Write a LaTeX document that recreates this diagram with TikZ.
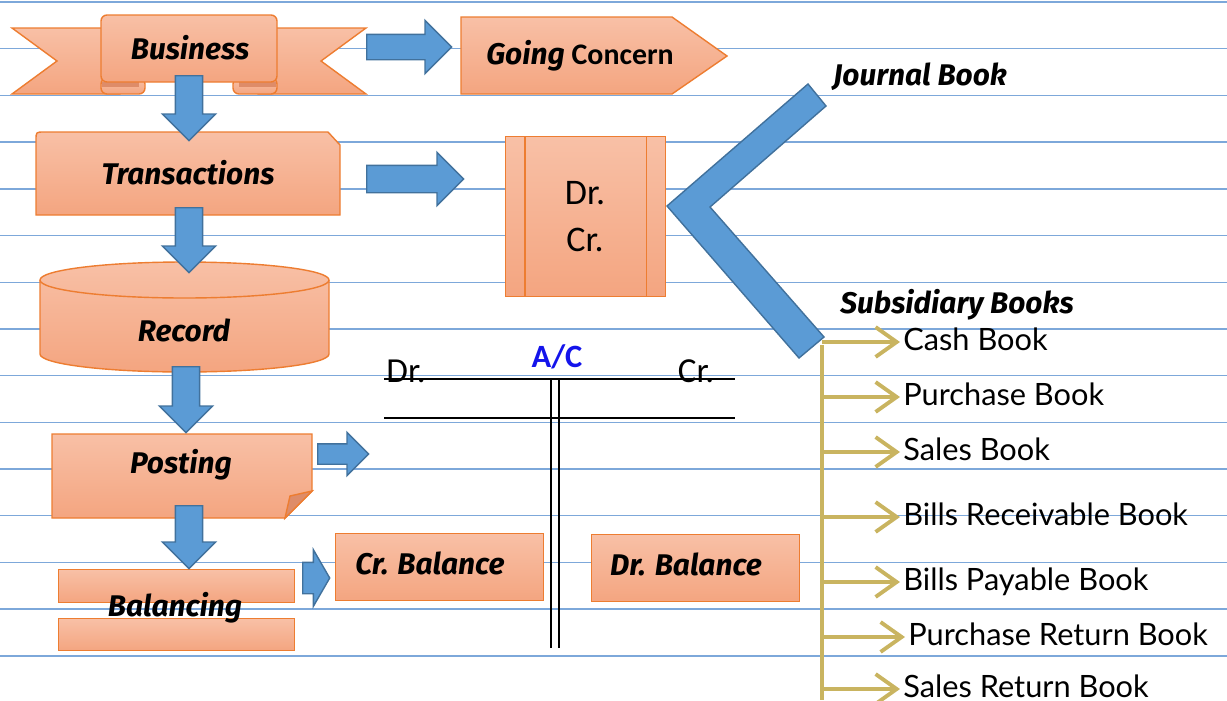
\documentclass[tikz,border=0pt]{standalone}
\usepackage{fontspec}
\setmainfont{Carlito}
\newfontfamily\handfont{Fira Sans}
\newfontfamily\listfont{Lato}
\usetikzlibrary{shapes.arrows,arrows.meta}
\newcommand{\px}{0.02cm}
\definecolor{boxtop}{RGB}{248,192,166}
\definecolor{boxbot}{RGB}{244,165,128}
\definecolor{boxline}{RGB}{237,125,49}
\definecolor{foldcol}{RGB}{222,140,105}
\definecolor{arrfill}{RGB}{91,155,213}
\definecolor{arrline}{RGB}{65,113,156}
\definecolor{ruleblue}{RGB}{125,168,218}
\definecolor{gold}{RGB}{201,180,96}
\definecolor{acblue}{RGB}{20,20,235}

\begin{document}
\begin{tikzpicture}[x=\px, y=-\px,
    rule/.style={draw=ruleblue, line width=0.8pt},
    paper/.style={draw=boxline, line width=0.8pt, top color=boxtop, bottom color=boxbot},
    card/.style={paper, rectangle, inner sep=0pt, anchor=north west},
    flow/.style={single arrow, draw=arrline, fill=arrfill, line width=0.8pt, inner xsep=0pt,
        minimum width=0pt, single arrow tip angle=90, anchor=tail},
    down/.style={flow, rotate=-90, inner ysep=0.26cm, single arrow head extend=0.26cm},
    hand/.style={font=\handfont\bfseries\itshape\fontsize{17}{20}\selectfont, inner sep=0pt},
    item/.style={font=\listfont\fontsize{17.5}{20}\selectfont, anchor=base west, inner xsep=0.06cm, inner ysep=0pt},
    branch/.style={draw=gold, line width=2.2pt, -{Straight Barb[length=12pt,width=17pt]}},
    ledger/.style={draw=black, line width=1.1pt}]
    \clip (0,0) rectangle (1227,700);

    % ruled paper
    \foreach \k in {0,...,14}
        \draw[rule] (0,2+46.7*\k) -- (1227,2+46.7*\k);

    % Business ribbon
    \path[paper] (12,28) -- (120,28) -- (120,94) -- (12,94) -- (57,61) -- cycle;
    \path[paper] (366,28) -- (258,28) -- (258,94) -- (366,94) -- (321,61) -- cycle;
    \draw[paper, rounded corners=0.12cm] (101,78) rectangle (145,94);
    \fill[foldcol] (102,82) rectangle (139,87);
    \draw[paper, rounded corners=0.12cm] (233,78) rectangle (277,94);
    \fill[foldcol] (239,82) rectangle (276,87);
    \draw[paper, rounded corners=0.12cm] (101,15) rectangle (277,82);
    \node[hand] (bus) at (190,48) {Business};

    % Going Concern
    \path[paper] (461,17) -- (672,17) -- (727,56) -- (672,94) -- (461,94) -- cycle;
    \node[hand] (going) at (580,56) {Going {\normalfont\bfseries Concern}};

    % Transactions
    \path[paper] (36,215) -- (36,140) .. controls (36,132) .. (44,132) -- (328,132) -- (340,145) -- (340,215) -- cycle;
    \node[hand] (trans) at (188,173) {Transactions};

    % Dr. Cr. box
    \node[card, minimum width=160*\px, minimum height=160*\px] (drcr) at (505,136) {};
    \draw[boxline, line width=0.8pt] ([xshift=20*\px]drcr.north west) -- ([xshift=20*\px]drcr.south west);
    \draw[boxline, line width=0.8pt] ([xshift=-20*\px]drcr.north east) -- ([xshift=-20*\px]drcr.south east);
    \node[align=center, font=\fontsize{20.5}{26.7}\selectfont] (drcr-txt) at (585,217) {Dr.\\Cr.};

    % Record
    \path[paper] (40,280) -- (40,354) arc[start angle=180, end angle=0, x radius=144.5, y radius=18]
        -- (329,280) arc[start angle=0, end angle=-180, x radius=144.5, y radius=18] -- cycle;
    \draw[boxline, line width=0.8pt] (40,280) arc[start angle=180, end angle=0, x radius=144.5, y radius=18];
    \node[hand] (rec) at (184,330) {Record};

    % Posting
    \path[paper] (52,434) -- (312,434) -- (312,491) -- (285,518) -- (52,518) -- cycle;
    \path[fill=foldcol, draw=boxline, line width=0.8pt] (312,491) -- (290,496) -- (285,518) -- cycle;
    \node[hand] (post) at (181,465) {Posting};

    % Balancing
    \node[card, minimum width=236*\px, minimum height=33*\px] (bal-top) at (58,569) {};
    \node[card, minimum width=236*\px, minimum height=32*\px] (bal-bot) at (58,618) {};
    \node[hand] (bal) at (175,608) {Balancing};

    % Balances
    \node[card, minimum width=208*\px, minimum height=67*\px] (crbal) at (335,533) {};
    \node[hand] (crbal-txt) at (430,563) {Cr. Balance};
    \node[card, minimum width=208*\px, minimum height=67*\px] (drbal) at (591,534) {};
    \node[hand] (drbal-txt) at (686,564) {Dr. Balance};

    % block arrows
    \node[flow, minimum height=85*\px, inner ysep=0.24cm, single arrow head extend=0.28cm] (to-going) at (366,47) {};
    \node[flow, minimum height=97*\px, inner ysep=0.26cm, single arrow head extend=0.26cm] (to-drcr) at (366,179) {};
    \node[flow, minimum height=51*\px, inner ysep=0.19cm, single arrow head extend=0.23cm] (to-ac) at (317,454) {};
    \node[flow, minimum height=27*\px, inner ysep=0.30cm, single arrow head extend=0.25cm, single arrow tip angle=120] (to-crbal) at (302,578) {};
    \node[down, minimum height=65*\px] (to-trans) at (189,75) {};
    \node[down, minimum height=65*\px] (to-rec) at (189,207) {};
    \node[down, minimum height=66*\px] (to-post) at (186,366) {};
    \node[down, minimum height=63*\px] (to-bal) at (189,505) {};

    % chevron
    \path[fill=arrfill, draw=arrline, line width=0.8pt] (808,84) -- (826,106) -- (710,207) -- (824,337) -- (799,358) -- (667,206) -- cycle;
    \node[hand] (journal) at (920,77) {Journal Book};
    \node[hand] (subs) at (957,305) {Subsidiary Books};

    % T account
    \node[font=\fontsize{20}{24}\selectfont, inner sep=0pt] (ac-dr) at (406,371) {Dr.};
    \node[font=\fontsize{20}{24}\selectfont, inner sep=0pt] (ac-cr) at (696,371) {Cr.};
    \node[font=\bfseries\fontsize{18.5}{22}\selectfont, text=acblue, inner sep=0pt] (ac) at (557,357) {A/C};
    \draw[ledger] (384,379) -- (735,379);
    \draw[ledger] (384,418) -- (735,418);
    \draw[ledger] (551,378) -- (551,648);
    \draw[ledger] (559,378) -- (559,648);

    % Subsidiary books
    \coordinate (trunk-top) at (822,345);
    \coordinate (trunk-end) at (822,700);
    \draw[gold, line width=2.2pt] (trunk-top) -- (trunk-end);
    \foreach \name/\xpos/\ypos/\txt in {cash/900/342/Cash Book, purch/900/397/Purchase Book,
        sales/900/452/Sales Book, billsrec/900/517/Bills Receivable Book,
        billspay/900/582/Bills Payable Book, purchret/905/637/Purchase Return Book,
        salesret/900/689/Sales Return Book}
    {
        \coordinate (trunk-\name) at (822,\ypos);
        \node[item] (\name) at (\xpos,\ypos+8) {\txt};
        \draw[branch] (trunk-\name) -- (trunk-\name -| \name.west);
    }
\end{tikzpicture}
\end{document}
